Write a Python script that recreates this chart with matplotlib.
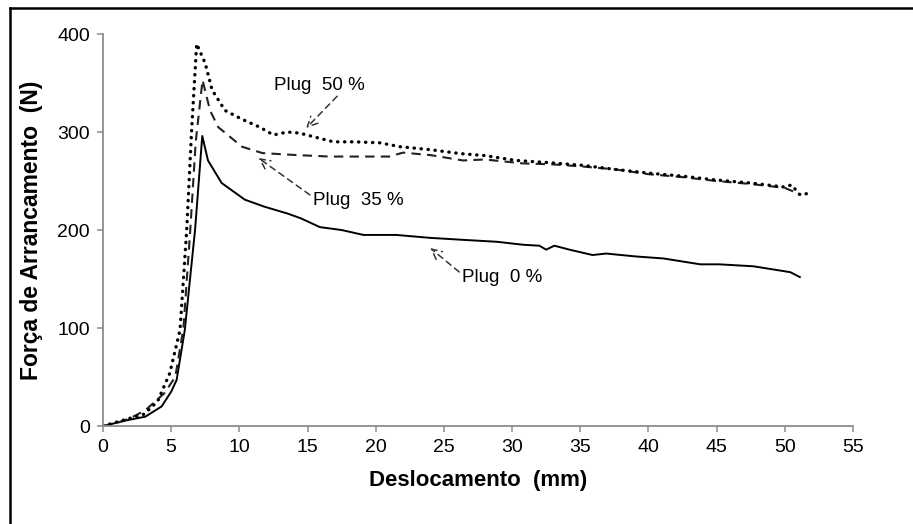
import matplotlib
matplotlib.use("Agg")
import matplotlib.pyplot as plt
from matplotlib.lines import Line2D

plt.rcParams['font.family'] = ['Liberation Sans', 'DejaVu Sans']

# Plug 0 % (linha cheia)
x0 = [0, 0.9, 1.8, 3.1, 4.3, 5.0, 5.4, 6.0, 6.75, 7.28, 7.7, 8.7, 10.4, 11.8, 13.0, 13.5,
      14.5, 15.9, 17.5, 19.1, 21.5, 24, 26.4, 28.9, 30.8, 32.0, 32.5, 33.1, 34.2, 35.9,
      36.9, 39.1, 41.1, 43.8, 45.2, 47.7, 50.4, 51.1]
y0 = [0, 3, 6, 9.5, 20, 35, 47, 98, 200, 296, 271, 248, 231, 224, 219, 217,
      212, 203, 200, 195, 195, 192, 190, 188, 185, 184, 180, 184, 180, 174.5,
      176, 173, 171, 165, 165, 163, 157, 152]

# Plug 35 % (tracejada)
x35 = [0, 1, 2, 3.1, 4.5, 5.3, 5.9, 6.4, 6.8, 7.3, 7.85, 8.45, 10.2, 11.7, 14.2, 16.6,
       19.1, 21, 22, 24, 26.4, 28, 30.8, 33, 35, 37.5, 40, 42.5, 45, 47.5, 50, 51.2]
y35 = [0, 3, 8, 16, 33.5, 50, 100, 200, 290, 353, 322, 305, 285, 278.5, 276.5, 275,
       275, 275, 279, 276.5, 271, 272, 268, 267, 265, 262, 257, 254, 250, 247, 243, 236]

# Plug 50 % (pontilhada)
x50 = [0, 1, 2, 3, 4.0, 4.9, 5.65, 6.14, 6.5, 6.87, 7.5, 8.0, 8.95, 10.2, 11.5, 12.5,
       13.5, 14.4, 15.5, 16.9, 18.5, 20.3, 21.8, 24, 26.2, 28, 30.3, 32.5, 35.2, 37.5,
       40.1, 42.5, 45, 47.5, 49.9, 50.5, 51.1, 52]
y50 = [0, 4, 8, 12, 25, 54, 98, 200, 302, 390, 370, 343, 322, 313, 305, 297,
       300, 299, 295, 290, 290, 289, 285, 282, 278, 276, 271, 269, 266, 262,
       258, 255, 251, 248, 244, 246, 236, 238]

fig = plt.figure(figsize=(9.13, 5.24), dpi=100)
ax = fig.add_axes([0.1128, 0.187, 0.8215, 0.748])

ax.plot(x0, y0, color='black', lw=1.4, ls='-')
ax.plot(x35, y35, color='#222222', lw=1.5, ls=(0, (4.5, 3)))
ax.plot(x50, y50, color='black', lw=2.4, ls=(0, (0.1, 2.0)), dash_capstyle='round')

ax.set_xlim(0, 55)
ax.set_ylim(0, 400)
ax.set_xticks(range(0, 56, 5))
ax.set_yticks([0, 100, 200, 300, 400])

for s in ['top', 'right']:
    ax.spines[s].set_visible(False)
for s in ['left', 'bottom']:
    ax.spines[s].set_color('#8c8c8c')
    ax.spines[s].set_linewidth(1.3)
ax.tick_params(direction='out', length=4.5, width=1.1, color='#8c8c8c',
               labelsize=14, pad=5)

ax.set_xlabel('Deslocamento  (mm)', fontsize=16, fontweight='bold', labelpad=10)
ax.set_ylabel('Força de Arrancamento  (N)', fontsize=16.5, fontweight='bold', labelpad=10)

arrow = dict(arrowstyle='->', linestyle=(0, (4, 3)), color='#333333', lw=1.1,
             mutation_scale=18, shrinkA=0, shrinkB=0)
ax.annotate('Plug  50 %', xy=(14.9, 304), xytext=(15.9, 348), ha='center', va='center',
            fontsize=13.5, arrowprops=dict(arrow, relpos=(0.72, 0.0)))
ax.annotate('Plug  35 %', xy=(11.4, 273.5), xytext=(18.7, 230.6), ha='center', va='center',
            fontsize=13.5, arrowprops=dict(arrow, relpos=(-0.03, 0.8)))
ax.annotate('Plug  0 %', xy=(24.0, 181.6), xytext=(29.3, 152), ha='center', va='center',
            fontsize=13.5, arrowprops=dict(arrow, relpos=(-0.04, 0.8)))

# moldura externa
fig.add_artist(Line2D([10 / 913, 10 / 913], [0, 1 - 8 / 524], transform=fig.transFigure,
                      color='black', lw=1.8))
fig.add_artist(Line2D([10 / 913, 1], [1 - 8 / 524, 1 - 8 / 524], transform=fig.transFigure,
                      color='black', lw=1.8))

fig.savefig('out.png', dpi=100)
